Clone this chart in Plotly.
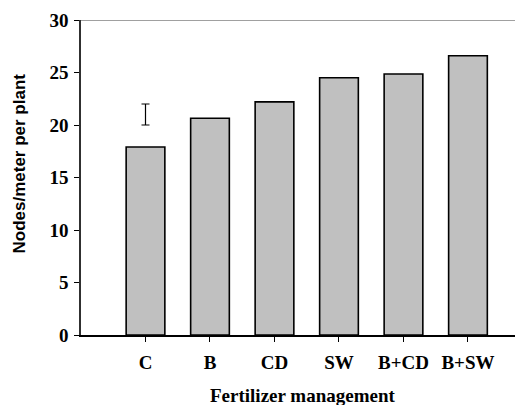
import plotly.graph_objects as go

categories = ["C", "B", "CD", "SW", "B+CD", "B+SW"]
nodes_per_meter = [17.9, 20.65, 22.2, 24.5, 24.85, 26.6]
lsd_category = "C"
lsd_low = 20.0
lsd_high = 22.0
y_ticks = [0, 5, 10, 15, 20, 25, 30]

serif = "Liberation Serif, Times New Roman, serif"
sans = "Liberation Sans, Arial, sans-serif"

fig = go.Figure()
fig.add_trace(go.Bar(
    x=categories, y=nodes_per_meter, width=0.6,
    marker=dict(color="#C0C0C0", line=dict(color="#000000", width=1.6)),
    showlegend=False, hoverinfo="skip",
))
mid = (lsd_low + lsd_high) / 2
fig.add_trace(go.Scatter(
    x=[lsd_category], y=[mid], mode="markers",
    marker=dict(color="rgba(0,0,0,0)", size=1),
    error_y=dict(type="data", array=[lsd_high - mid], symmetric=True,
                 color="#000000", thickness=1.2, width=4),
    showlegend=False, hoverinfo="skip",
))

fig.add_shape(type="line", xref="paper", yref="y", x0=0, x1=1, y0=30, y1=30,
              line=dict(color="#808080", width=1.6), layer="above")

fig.add_annotation(text="<b>Nodes/meter per plant</b>", textangle=-90,
                   xref="paper", yref="paper", x=-0.139, y=0.543,
                   xanchor="center", yanchor="middle", showarrow=False,
                   font=dict(family=sans, size=17, color="#000000"))
fig.add_annotation(text="<b>Fertilizer management</b>",
                   xref="paper", yref="paper", x=0.5, y=-0.192,
                   xanchor="center", yanchor="middle", showarrow=False,
                   font=dict(family=serif, size=19, color="#000000"))

fig.update_layout(
    width=523, height=405,
    margin=dict(l=73, r=8, t=12, b=78, pad=0, autoexpand=False),
    plot_bgcolor="#FFFFFF", paper_bgcolor="#FFFFFF",
    bargap=0.4,
)
fig.update_xaxes(
    type="category", range=[-1, 5.853], automargin=False,
    showline=True, linecolor="#000000", linewidth=1.5,
    ticks="outside", ticklen=5, tickcolor="#000000", tickwidth=1,
    ticklabelstandoff=4,
    tickfont=dict(family=serif, size=19, color="#000000", weight="bold"),
    showgrid=False, zeroline=False,
)
fig.update_yaxes(
    range=[0, 30], tickvals=y_ticks, automargin=False,
    showline=True, linecolor="#303030", linewidth=1.5,
    ticks="outside", ticklen=5, tickcolor="#000000", tickwidth=1,
    ticklabelstandoff=2,
    tickfont=dict(family=serif, size=19, color="#000000", weight="bold"),
    showgrid=False, zeroline=False,
)

fig.write_html("out.html")
